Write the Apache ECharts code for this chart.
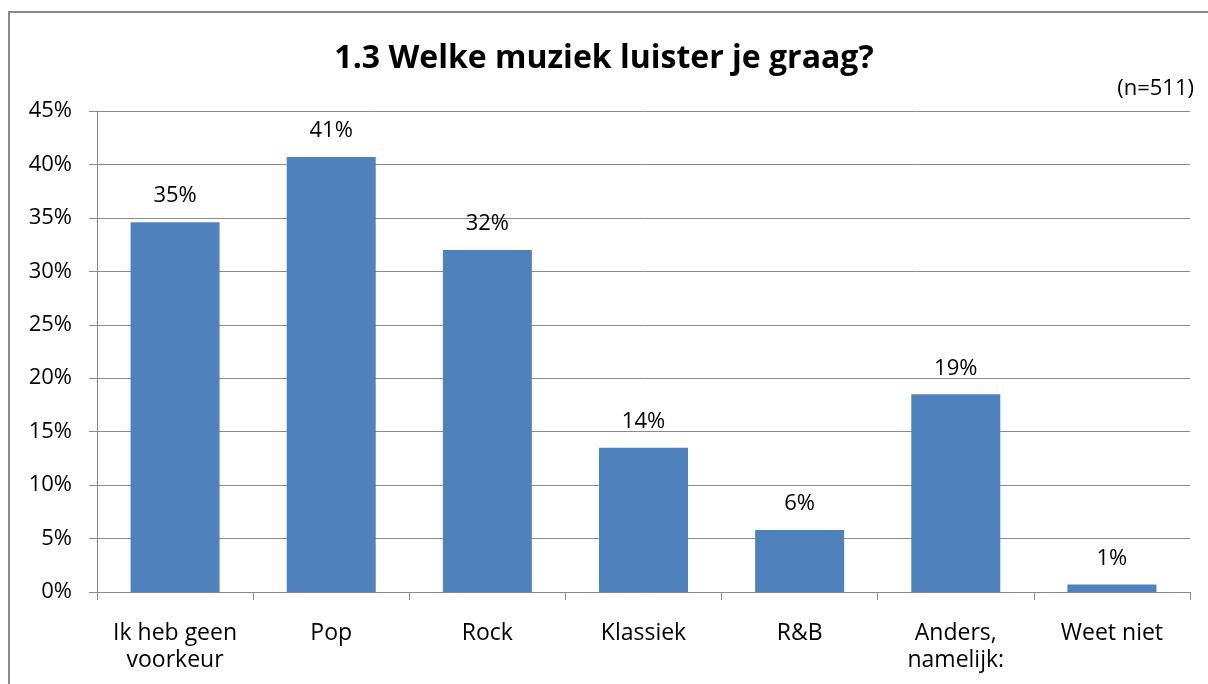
<!DOCTYPE html>
<html>
<head>
<meta charset="utf-8">
<script src="https://cdn.jsdelivr.net/npm/echarts@6/dist/echarts.min.js"></script>
<style>
  html, body { margin: 0; padding: 0; background: #fff; }
  #main { width: 1208px; height: 684px; }
</style>
</head>
<body>
<div id="main"></div>
<script>
var categories = ["Ik heb geen\nvoorkeur", "Pop", "Rock", "Klassiek", "R&B", "Anders,\nnamelijk:", "Weet niet"];
var values = [34.6, 40.7, 32.0, 13.5, 5.8, 18.5, 0.7];
var labels = ["35%", "41%", "32%", "14%", "6%", "19%", "1%"];

var font = "'Open Sans', 'Noto Sans', sans-serif";
var myChart = echarts.init(document.getElementById("main"));
var option = {
	backgroundColor: '#ffffff',
	animation: false,
	graphic: [
		{
			type: 'rect',
			shape: { x: 9, y: 12, width: 1220, height: 700 },
			style: { fill: 'none', stroke: '#8a8a8a', lineWidth: 2 }
		}
	],
	title: [
		{
			text: '1.3 Welke muziek luister je graag?',
			left: 'center',
			top: 38,
			textStyle: { fontFamily: font, fontSize: 32, fontWeight: 'bold', color: '#000' }
		},
		{
			text: '(n=511)',
			right: 9,
			top: 73,
			textStyle: { fontFamily: font, fontSize: 22, fontWeight: 'normal', color: '#000' }
		}
	],
	grid: { left: 97, right: 18, top: 111, bottom: 92 },
	xAxis: {
		type: 'category',
		data: categories,
		axisLine: { lineStyle: { color: '#8a8a8a', width: 1 } },
		axisTick: { show: true, length: 8, lineStyle: { color: '#8a8a8a' } },
		axisLabel: {
			fontFamily: font, fontSize: 23, color: '#000', margin: 28, lineHeight: 27, interval: 0
		}
	},
	yAxis: {
		type: 'value',
		min: 0,
		max: 45,
		interval: 5,
		axisLine: { show: true, lineStyle: { color: '#8a8a8a', width: 1 } },
		axisTick: { show: true, length: 8, lineStyle: { color: '#8a8a8a' } },
		splitLine: { lineStyle: { color: '#8a8a8a', width: 1 } },
		axisLabel: {
			fontFamily: font, fontSize: 22, color: '#000', margin: 25,
			formatter: function (v) { return v + '%'; }
		}
	},
	series: [
		{
			type: 'bar',
			data: values,
			barWidth: 89,
			itemStyle: { color: '#4f81bd' },
			label: {
				show: true,
				position: 'top',
				distance: 15,
				fontFamily: font,
				fontSize: 22,
				color: '#000',
				formatter: function (p) { return labels[p.dataIndex]; }
			}
		}
	]
};
myChart.setOption(option);
</script>
</body>
</html>
